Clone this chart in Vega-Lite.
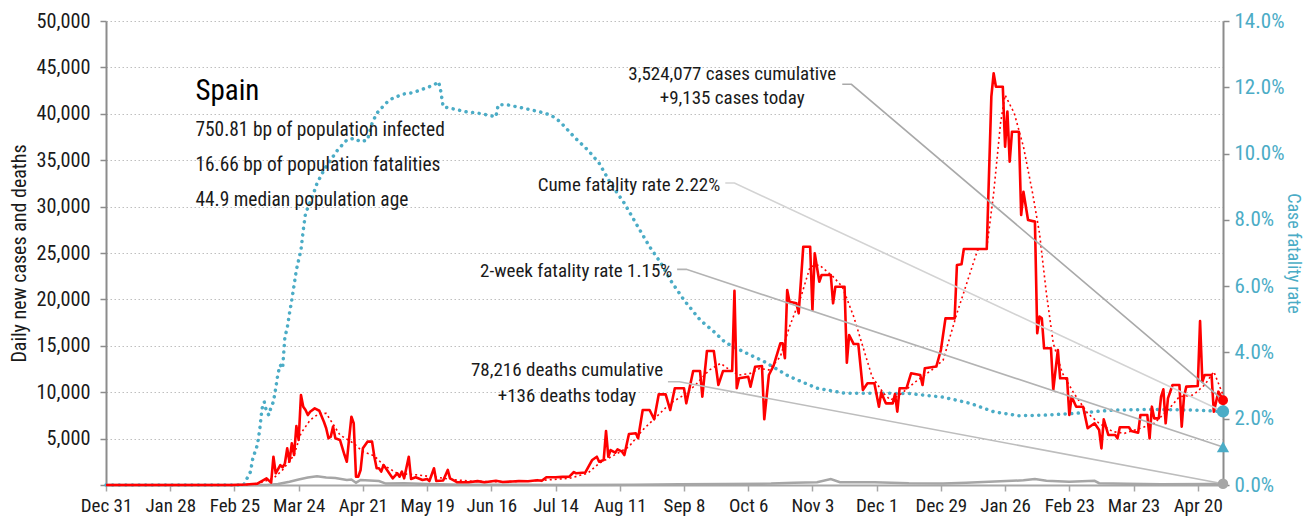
{
"$schema": "https://vega.github.io/schema/vega-lite/v6.json",
"width": 1117, "height": 464,
"autosize": {"type": "none"},
"padding": {"left": 106, "top": 21, "right": 84, "bottom": 44},
"background": "white",
"config": {
  "font": "Roboto Condensed, Roboto, sans-serif",
  "view": {"stroke": null},
  "axis": {"labelFont": "Roboto Condensed, Roboto, sans-serif", "titleFont": "Roboto Condensed, Roboto, sans-serif", "labelFontSize": 20.3, "titleFontSize": 20, "titleFontWeight": "normal", "labelColor": "#1a1a1a", "titleColor": "#1a1a1a", "domainColor": "#8c8c8c", "domainWidth": 2, "tickColor": "#8c8c8c", "tickWidth": 1.5, "tickSize": 6}
},
"datasets": {
"cases": [
{"date":"2019-12-31","cases":0},{"date":"2020-01-30","cases":0},{"date":"2020-02-24","cases":0},{"date":"2020-03-01","cases":50},{"date":"2020-03-06","cases":150},{"date":"2020-03-10","cases":720},{"date":"2020-03-12","cases":250},{"date":"2020-03-13","cases":3050},{"date":"2020-03-14","cases":1260},{"date":"2020-03-16","cases":2150},{"date":"2020-03-17","cases":1900},{"date":"2020-03-18","cases":2340},{"date":"2020-03-19","cases":3950},{"date":"2020-03-20","cases":2510},{"date":"2020-03-21","cases":4490},{"date":"2020-03-22","cases":3230},{"date":"2020-03-23","cases":6360},{"date":"2020-03-24","cases":4850},{"date":"2020-03-25","cases":9700},{"date":"2020-03-26","cases":8440},{"date":"2020-03-27","cases":8080},{"date":"2020-03-28","cases":7540},{"date":"2020-03-29","cases":7900},{"date":"2020-03-31","cases":8260},{"date":"2020-04-02","cases":8000},{"date":"2020-04-04","cases":6820},{"date":"2020-04-05","cases":6110},{"date":"2020-04-06","cases":5030},{"date":"2020-04-07","cases":5210},{"date":"2020-04-08","cases":6290},{"date":"2020-04-09","cases":5030},{"date":"2020-04-11","cases":4850},{"date":"2020-04-13","cases":3230},{"date":"2020-04-14","cases":2510},{"date":"2020-04-15","cases":5030},{"date":"2020-04-16","cases":7360},{"date":"2020-04-17","cases":6650},{"date":"2020-04-18","cases":900},{"date":"2020-04-19","cases":900},{"date":"2020-04-20","cases":1620},{"date":"2020-04-21","cases":3950},{"date":"2020-04-23","cases":4670},{"date":"2020-04-25","cases":4670},{"date":"2020-04-26","cases":3050},{"date":"2020-04-27","cases":1800},{"date":"2020-04-28","cases":1800},{"date":"2020-04-29","cases":1440},{"date":"2020-04-30","cases":2150},{"date":"2020-05-01","cases":1800},{"date":"2020-05-03","cases":1080},{"date":"2020-05-04","cases":720},{"date":"2020-05-06","cases":1260},{"date":"2020-05-07","cases":900},{"date":"2020-05-08","cases":1440},{"date":"2020-05-09","cases":720},{"date":"2020-05-11","cases":3050},{"date":"2020-05-12","cases":650},{"date":"2020-05-14","cases":830},{"date":"2020-05-17","cases":540},{"date":"2020-05-19","cases":650},{"date":"2020-05-20","cases":430},{"date":"2020-05-22","cases":1800},{"date":"2020-05-23","cases":430},{"date":"2020-05-26","cases":480},{"date":"2020-05-28","cases":1620},{"date":"2020-05-29","cases":720},{"date":"2020-06-01","cases":300},{"date":"2020-06-06","cases":300},{"date":"2020-06-10","cases":420},{"date":"2020-06-13","cases":300},{"date":"2020-06-18","cases":450},{"date":"2020-06-21","cases":330},{"date":"2020-06-25","cases":380},{"date":"2020-06-28","cases":420},{"date":"2020-07-02","cases":400},{"date":"2020-07-06","cases":520},{"date":"2020-07-08","cases":450},{"date":"2020-07-10","cases":830},{"date":"2020-07-14","cases":830},{"date":"2020-07-17","cases":880},{"date":"2020-07-20","cases":900},{"date":"2020-07-22","cases":1400},{"date":"2020-07-23","cases":1260},{"date":"2020-07-27","cases":1350},{"date":"2020-07-30","cases":2700},{"date":"2020-08-01","cases":3050},{"date":"2020-08-02","cases":2510},{"date":"2020-08-04","cases":2700},{"date":"2020-08-05","cases":5820},{"date":"2020-08-06","cases":3050},{"date":"2020-08-07","cases":3770},{"date":"2020-08-09","cases":3480},{"date":"2020-08-10","cases":3840},{"date":"2020-08-12","cases":3590},{"date":"2020-08-13","cases":3230},{"date":"2020-08-15","cases":5500},{"date":"2020-08-18","cases":5570},{"date":"2020-08-19","cases":5030},{"date":"2020-08-21","cases":8080},{"date":"2020-08-24","cases":8080},{"date":"2020-08-26","cases":7080},{"date":"2020-08-28","cases":9770},{"date":"2020-08-31","cases":9770},{"date":"2020-09-02","cases":8080},{"date":"2020-09-04","cases":10420},{"date":"2020-09-08","cases":10420},{"date":"2020-09-09","cases":8800},{"date":"2020-09-12","cases":12280},{"date":"2020-09-15","cases":12280},{"date":"2020-09-16","cases":9520},{"date":"2020-09-18","cases":14440},{"date":"2020-09-21","cases":14440},{"date":"2020-09-23","cases":10780},{"date":"2020-09-25","cases":12280},{"date":"2020-09-29","cases":12280},{"date":"2020-09-30","cases":20940},{"date":"2020-10-01","cases":10420},{"date":"2020-10-02","cases":11500},{"date":"2020-10-06","cases":11670},{"date":"2020-10-07","cases":10600},{"date":"2020-10-09","cases":12750},{"date":"2020-10-12","cases":12820},{"date":"2020-10-13","cases":7080},{"date":"2020-10-15","cases":11850},{"date":"2020-10-17","cases":12820},{"date":"2020-10-20","cases":15270},{"date":"2020-10-21","cases":15270},{"date":"2020-10-22","cases":13660},{"date":"2020-10-23","cases":21010},{"date":"2020-10-24","cases":19750},{"date":"2020-10-27","cases":19580},{"date":"2020-10-28","cases":18500},{"date":"2020-10-30","cases":25680},{"date":"2020-11-02","cases":25680},{"date":"2020-11-03","cases":18860},{"date":"2020-11-04","cases":24970},{"date":"2020-11-06","cases":21900},{"date":"2020-11-07","cases":22630},{"date":"2020-11-11","cases":22630},{"date":"2020-11-12","cases":19580},{"date":"2020-11-13","cases":21370},{"date":"2020-11-17","cases":21370},{"date":"2020-11-18","cases":13180},{"date":"2020-11-19","cases":16160},{"date":"2020-11-21","cases":15190},{"date":"2020-11-23","cases":15190},{"date":"2020-11-25","cases":10240},{"date":"2020-11-27","cases":10960},{"date":"2020-11-30","cases":10960},{"date":"2020-12-02","cases":8440},{"date":"2020-12-03","cases":9980},{"date":"2020-12-05","cases":8800},{"date":"2020-12-08","cases":8800},{"date":"2020-12-09","cases":9800},{"date":"2020-12-10","cases":7900},{"date":"2020-12-11","cases":10420},{"date":"2020-12-14","cases":10420},{"date":"2020-12-16","cases":12040},{"date":"2020-12-20","cases":11850},{"date":"2020-12-21","cases":10780},{"date":"2020-12-22","cases":12580},{"date":"2020-12-27","cases":12760},{"date":"2020-12-29","cases":14550},{"date":"2020-12-31","cases":17960},{"date":"2021-01-04","cases":17960},{"date":"2021-01-05","cases":23710},{"date":"2021-01-07","cases":23780},{"date":"2021-01-08","cases":25430},{"date":"2021-01-18","cases":25430},{"date":"2021-01-20","cases":41840},{"date":"2021-01-21","cases":44360},{"date":"2021-01-22","cases":42920},{"date":"2021-01-25","cases":42920},{"date":"2021-01-26","cases":36450},{"date":"2021-01-27","cases":40230},{"date":"2021-01-28","cases":34840},{"date":"2021-01-29","cases":38070},{"date":"2021-02-01","cases":38070},{"date":"2021-02-02","cases":29090},{"date":"2021-02-03","cases":31600},{"date":"2021-02-05","cases":28560},{"date":"2021-02-08","cases":28380},{"date":"2021-02-09","cases":16350},{"date":"2021-02-10","cases":18140},{"date":"2021-02-11","cases":17960},{"date":"2021-02-12","cases":14730},{"date":"2021-02-15","cases":14730},{"date":"2021-02-16","cases":10240},{"date":"2021-02-18","cases":14550},{"date":"2021-02-19","cases":11500},{"date":"2021-02-22","cases":11500},{"date":"2021-02-23","cases":7540},{"date":"2021-02-24","cases":9520},{"date":"2021-02-26","cases":8440},{"date":"2021-03-01","cases":8440},{"date":"2021-03-03","cases":6110},{"date":"2021-03-06","cases":6650},{"date":"2021-03-08","cases":5930},{"date":"2021-03-09","cases":3950},{"date":"2021-03-10","cases":7080},{"date":"2021-03-12","cases":5390},{"date":"2021-03-15","cases":5390},{"date":"2021-03-16","cases":5030},{"date":"2021-03-17","cases":6220},{"date":"2021-03-21","cases":6220},{"date":"2021-03-22","cases":5820},{"date":"2021-03-25","cases":5630},{"date":"2021-03-26","cases":7540},{"date":"2021-03-29","cases":7540},{"date":"2021-03-30","cases":5030},{"date":"2021-03-31","cases":8440},{"date":"2021-04-01","cases":7180},{"date":"2021-04-03","cases":7180},{"date":"2021-04-04","cases":9520},{"date":"2021-04-05","cases":10310},{"date":"2021-04-06","cases":6650},{"date":"2021-04-07","cases":9340},{"date":"2021-04-09","cases":10780},{"date":"2021-04-12","cases":10780},{"date":"2021-04-13","cases":6290},{"date":"2021-04-14","cases":9520},{"date":"2021-04-15","cases":10600},{"date":"2021-04-20","cases":10670},{"date":"2021-04-21","cases":17670},{"date":"2021-04-22","cases":11130},{"date":"2021-04-23","cases":11850},{"date":"2021-04-26","cases":11850},{"date":"2021-04-27","cases":7900},{"date":"2021-04-29","cases":10060},{"date":"2021-05-01","cases":9135}
],
"ma": [
{"date":"2019-12-31","ma":0},{"date":"2020-02-29","ma":0},{"date":"2020-03-06","ma":150},{"date":"2020-03-13","ma":720},{"date":"2020-03-17","ma":1620},{"date":"2020-03-22","ma":3230},{"date":"2020-03-25","ma":5570},{"date":"2020-03-29","ma":7000},{"date":"2020-04-02","ma":7720},{"date":"2020-04-05","ma":7720},{"date":"2020-04-11","ma":5390},{"date":"2020-04-17","ma":4490},{"date":"2020-04-21","ma":3590},{"date":"2020-04-26","ma":3130},{"date":"2020-04-30","ma":2150},{"date":"2020-05-06","ma":1260},{"date":"2020-05-15","ma":1080},{"date":"2020-05-23","ma":830},{"date":"2020-06-01","ma":540},{"date":"2020-06-08","ma":400},{"date":"2020-06-23","ma":350},{"date":"2020-07-08","ma":500},{"date":"2020-07-20","ma":720},{"date":"2020-07-28","ma":1260},{"date":"2020-08-02","ma":2340},{"date":"2020-08-10","ma":3410},{"date":"2020-08-15","ma":4130},{"date":"2020-08-21","ma":5930},{"date":"2020-08-27","ma":7360},{"date":"2020-09-02","ma":8800},{"date":"2020-09-08","ma":9700},{"date":"2020-09-13","ma":10780},{"date":"2020-09-19","ma":12390},{"date":"2020-09-24","ma":13110},{"date":"2020-09-28","ma":12390},{"date":"2020-10-02","ma":11850},{"date":"2020-10-07","ma":12030},{"date":"2020-10-11","ma":12570},{"date":"2020-10-15","ma":12390},{"date":"2020-10-20","ma":13830},{"date":"2020-10-24","ma":17060},{"date":"2020-10-29","ma":20290},{"date":"2020-11-02","ma":23530},{"date":"2020-11-06","ma":23710},{"date":"2020-11-12","ma":22450},{"date":"2020-11-16","ma":21370},{"date":"2020-11-21","ma":18140},{"date":"2020-11-25","ma":14900},{"date":"2020-11-29","ma":11670},{"date":"2020-12-04","ma":9880},{"date":"2020-12-07","ma":9160},{"date":"2020-12-11","ma":9700},{"date":"2020-12-18","ma":11130},{"date":"2020-12-25","ma":12390},{"date":"2020-12-30","ma":13470},{"date":"2021-01-05","ma":18500},{"date":"2021-01-14","ma":25320},{"date":"2021-01-18","ma":25540},{"date":"2021-01-21","ma":31430},{"date":"2021-01-24","ma":38980},{"date":"2021-01-26","ma":42030},{"date":"2021-01-30","ma":40050},{"date":"2021-02-03","ma":36450},{"date":"2021-02-07","ma":31430},{"date":"2021-02-10","ma":27120},{"date":"2021-02-13","ma":20660},{"date":"2021-02-16","ma":15270},{"date":"2021-02-20","ma":12040},{"date":"2021-02-25","ma":9880},{"date":"2021-03-03","ma":7720},{"date":"2021-03-08","ma":6650},{"date":"2021-03-14","ma":5750},{"date":"2021-03-19","ma":5570},{"date":"2021-03-26","ma":6110},{"date":"2021-04-01","ma":6650},{"date":"2021-04-07","ma":8080},{"date":"2021-04-12","ma":9520},{"date":"2021-04-18","ma":9700},{"date":"2021-04-23","ma":10780},{"date":"2021-04-27","ma":12210},{"date":"2021-04-29","ma":10960},{"date":"2021-05-01","ma":9700}
],
"deaths": [
{"date":"2019-12-31","deaths":0},{"date":"2020-03-05","deaths":0},{"date":"2020-03-10","deaths":10},{"date":"2020-03-15","deaths":100},{"date":"2020-03-20","deaths":350},{"date":"2020-03-24","deaths":600},{"date":"2020-03-28","deaths":800},{"date":"2020-04-01","deaths":950},{"date":"2020-04-05","deaths":800},{"date":"2020-04-09","deaths":750},{"date":"2020-04-14","deaths":540},{"date":"2020-04-16","deaths":600},{"date":"2020-04-18","deaths":250},{"date":"2020-04-20","deaths":540},{"date":"2020-04-28","deaths":430},{"date":"2020-05-01","deaths":150},{"date":"2020-05-09","deaths":200},{"date":"2020-05-19","deaths":100},{"date":"2020-05-29","deaths":50},{"date":"2020-06-08","deaths":30},{"date":"2020-07-19","deaths":10},{"date":"2020-08-17","deaths":40},{"date":"2020-09-06","deaths":80},{"date":"2020-09-26","deaths":120},{"date":"2020-10-16","deaths":150},{"date":"2020-10-26","deaths":250},{"date":"2020-11-05","deaths":300},{"date":"2020-11-11","deaths":650},{"date":"2020-11-15","deaths":300},{"date":"2020-11-30","deaths":300},{"date":"2020-12-15","deaths":180},{"date":"2020-12-30","deaths":150},{"date":"2021-01-09","deaths":250},{"date":"2021-01-24","deaths":400},{"date":"2021-02-03","deaths":500},{"date":"2021-02-08","deaths":650},{"date":"2021-02-13","deaths":450},{"date":"2021-02-23","deaths":350},{"date":"2021-03-06","deaths":450},{"date":"2021-03-08","deaths":200},{"date":"2021-03-20","deaths":130},{"date":"2021-04-04","deaths":80},{"date":"2021-04-24","deaths":100},{"date":"2021-05-01","deaths":136}
],
"cfr": [
{"date":"2019-12-31","cfr":0},{"date":"2020-02-29","cfr":0},{"date":"2020-03-03","cfr":0.004},{"date":"2020-03-04","cfr":0.008},{"date":"2020-03-06","cfr":0.0121},{"date":"2020-03-07","cfr":0.0166},{"date":"2020-03-08","cfr":0.023},{"date":"2020-03-09","cfr":0.0251},{"date":"2020-03-10","cfr":0.0221},{"date":"2020-03-11","cfr":0.0211},{"date":"2020-03-12","cfr":0.0236},{"date":"2020-03-13","cfr":0.0251},{"date":"2020-03-14","cfr":0.0292},{"date":"2020-03-15","cfr":0.0337},{"date":"2020-03-16","cfr":0.0362},{"date":"2020-03-17","cfr":0.0352},{"date":"2020-03-18","cfr":0.0447},{"date":"2020-03-19","cfr":0.0473},{"date":"2020-03-20","cfr":0.0518},{"date":"2020-03-21","cfr":0.0558},{"date":"2020-03-22","cfr":0.0603},{"date":"2020-03-23","cfr":0.0649},{"date":"2020-03-25","cfr":0.0709},{"date":"2020-03-26","cfr":0.0769},{"date":"2020-03-27","cfr":0.082},{"date":"2020-03-30","cfr":0.087},{"date":"2020-04-01","cfr":0.091},{"date":"2020-04-04","cfr":0.095},{"date":"2020-04-07","cfr":0.0981},{"date":"2020-04-10","cfr":0.1011},{"date":"2020-04-14","cfr":0.1041},{"date":"2020-04-17","cfr":0.1046},{"date":"2020-04-20","cfr":0.1036},{"date":"2020-04-23","cfr":0.1041},{"date":"2020-04-25","cfr":0.1091},{"date":"2020-04-27","cfr":0.1121},{"date":"2020-05-01","cfr":0.1152},{"date":"2020-05-04","cfr":0.1167},{"date":"2020-05-09","cfr":0.118},{"date":"2020-05-13","cfr":0.1184},{"date":"2020-05-17","cfr":0.1194},{"date":"2020-05-22","cfr":0.1207},{"date":"2020-05-24","cfr":0.1217},{"date":"2020-05-25","cfr":0.1187},{"date":"2020-05-26","cfr":0.1141},{"date":"2020-05-29","cfr":0.1137},{"date":"2020-06-05","cfr":0.1126},{"date":"2020-06-11","cfr":0.1121},{"date":"2020-06-18","cfr":0.1111},{"date":"2020-06-19","cfr":0.1147},{"date":"2020-06-23","cfr":0.1147},{"date":"2020-06-30","cfr":0.1137},{"date":"2020-07-07","cfr":0.1126},{"date":"2020-07-12","cfr":0.1116},{"date":"2020-07-16","cfr":0.1096},{"date":"2020-07-22","cfr":0.1051},{"date":"2020-07-28","cfr":0.1011},{"date":"2020-08-02","cfr":0.0971},{"date":"2020-08-07","cfr":0.091},{"date":"2020-08-13","cfr":0.085},{"date":"2020-08-18","cfr":0.079},{"date":"2020-08-24","cfr":0.0719},{"date":"2020-08-29","cfr":0.0669},{"date":"2020-09-02","cfr":0.0619},{"date":"2020-09-08","cfr":0.0558},{"date":"2020-09-15","cfr":0.0498},{"date":"2020-09-21","cfr":0.0463},{"date":"2020-09-26","cfr":0.043},{"date":"2020-10-01","cfr":0.0412},{"date":"2020-10-13","cfr":0.0372},{"date":"2020-10-24","cfr":0.0327},{"date":"2020-11-05","cfr":0.0292},{"date":"2020-11-17","cfr":0.0277},{"date":"2020-11-30","cfr":0.0277},{"date":"2020-12-15","cfr":0.0276},{"date":"2020-12-30","cfr":0.0265},{"date":"2021-01-11","cfr":0.0246},{"date":"2021-01-21","cfr":0.0221},{"date":"2021-02-01","cfr":0.0209},{"date":"2021-02-13","cfr":0.0211},{"date":"2021-02-25","cfr":0.0216},{"date":"2021-03-14","cfr":0.0226},{"date":"2021-04-01","cfr":0.0228},{"date":"2021-04-18","cfr":0.0226},{"date":"2021-05-01","cfr":0.0222}
],
"notes": [
{"date":"2020-02-08","value":41490,"text":"Spain","group":"title"},
{"date":"2020-02-08","value":37610,"text":"750.81 bp of population infected","group":"stat"},
{"date":"2020-02-08","value":33870,"text":"16.66 bp of population fatalities","group":"stat"},
{"date":"2020-02-08","value":30070,"text":"44.9 median population age","group":"stat"},
{"date":"2020-09-29","value":43640,"text":"3,524,077 cases cumulative","group":"ann"},
{"date":"2020-09-29","value":41060,"text":"+9,135 cases today","group":"ann"},
{"date":"2020-08-15","value":31710,"text":"Cume fatality rate 2.22%","group":"ann"},
{"date":"2020-07-23","value":22450,"text":"2-week fatality rate 1.15%","group":"ann"},
{"date":"2020-07-19","value":11750,"text":"78,216 deaths cumulative","group":"ann"},
{"date":"2020-07-19","value":8980,"text":"+136 deaths today","group":"ann"}
],
"links": [
{"date":"2020-11-16","value":43180,"link":"cases"},{"date":"2020-11-20","value":43180,"link":"cases"},{"date":"2021-05-01","value":9135,"link":"cases"},
{"date":"2020-09-26","value":32540,"link":"cume"},{"date":"2020-09-30","value":32540,"link":"cume"},{"date":"2021-05-01","value":7929,"link":"cume"},
{"date":"2020-09-05","value":23240,"link":"twoweek"},{"date":"2020-09-09","value":23240,"link":"twoweek"},{"date":"2021-05-01","value":4107,"link":"twoweek"},
{"date":"2020-09-01","value":11130,"link":"deaths"},{"date":"2020-09-06","value":11130,"link":"deaths"},{"date":"2021-05-01","value":136,"link":"deaths"}
],
"endLeft": [
{"date":"2021-05-01","value":9135,"marker":"cases"},
{"date":"2021-05-01","value":136,"marker":"deaths"}
],
"endRight": [
{"date":"2021-05-01","rate":0.0222,"marker":"cume"},
{"date":"2021-05-01","rate":0.0115,"marker":"twoweek"}
]
},
"encoding": {
  "x": {"field": "date", "type": "temporal",
    "scale": {"type": "utc", "domain": [{"year":2019,"month":12,"date":31,"utc":true},{"year":2021,"month":5,"date":1,"utc":true}]},
    "axis": {"title": null, "format": "%b %-d", "grid": false, "labelPadding": 5, "labelFontSize": 19, "labelOverlap": false, "labelFlush": false, "domainColor": "#a6a6a6", "tickColor": "#a6a6a6",
      "values": [{"year":2019,"month":12,"date":31,"utc":true},{"year":2020,"month":1,"date":28,"utc":true},{"year":2020,"month":2,"date":25,"utc":true},{"year":2020,"month":3,"date":24,"utc":true},{"year":2020,"month":4,"date":21,"utc":true},{"year":2020,"month":5,"date":19,"utc":true},{"year":2020,"month":6,"date":16,"utc":true},{"year":2020,"month":7,"date":14,"utc":true},{"year":2020,"month":8,"date":11,"utc":true},{"year":2020,"month":9,"date":8,"utc":true},{"year":2020,"month":10,"date":6,"utc":true},{"year":2020,"month":11,"date":3,"utc":true},{"year":2020,"month":12,"date":1,"utc":true},{"year":2020,"month":12,"date":29,"utc":true},{"year":2021,"month":1,"date":26,"utc":true},{"year":2021,"month":2,"date":23,"utc":true},{"year":2021,"month":3,"date":23,"utc":true},{"year":2021,"month":4,"date":20,"utc":true}]}}
},
"layer": [
{
  "data": {"name": "cfr"},
  "mark": {"type": "line", "color": "#4bacc6", "strokeWidth": 3.5, "strokeDash": [0.1, 6.5], "strokeCap": "round"},
  "encoding": {
    "y": {"field": "cfr", "type": "quantitative", "scale": {"domain": [0, 0.14], "nice": false},
      "axis": {"orient": "right", "values": [0,0.02,0.04,0.06,0.08,0.1,0.12,0.14], "format": ".1%", "labelFontSize": 21, "labelColor": "#4bacc6", "title": "Case fatality rate", "titleFontSize": 18, "titleColor": "#4bacc6", "grid": false, "titlePadding": 0, "labelPadding": 5}}
  }
},
{
  "encoding": {"y": {"type": "quantitative", "scale": {"domain": [0, 50000], "nice": false}}},
  "layer": [
    {
      "data": {"name": "deaths"},
      "mark": {"type": "line", "color": "#a6a6a6", "strokeWidth": 2.5},
      "encoding": {"y": {"field": "deaths", "type": "quantitative", "scale": {"domain": [0, 50000], "nice": false},
        "axis": {"orient": "left", "values": [0,5000,10000,15000,20000,25000,30000,35000,40000,45000,50000], "format": ",d", "labelExpr": "datum.value === 0 ? '' : datum.label", "grid": true, "gridColor": "#bfbfbf", "gridDash": [1.5, 2.5], "gridWidth": 1.2, "title": "Daily new cases and deaths", "titlePadding": 6, "labelPadding": 10}}}
    },
    {
      "data": {"name": "ma"},
      "mark": {"type": "line", "color": "#ff0000", "strokeWidth": 1.6, "strokeDash": [2, 3]},
      "encoding": {"y": {"field": "ma", "type": "quantitative"}}
    },
    {
      "data": {"name": "cases"},
      "mark": {"type": "line", "color": "#ff0000", "strokeWidth": 2.6, "strokeJoin": "round"},
      "encoding": {"y": {"field": "cases", "type": "quantitative"}}
    },
    {
      "data": {"name": "links"},
      "mark": {"type": "line", "strokeWidth": 1.6},
      "encoding": {
        "y": {"field": "value", "type": "quantitative"},
        "detail": {"field": "link"},
        "color": {"field": "link", "type": "nominal", "legend": null, "scale": {"domain": ["cases","cume","twoweek","deaths"], "range": ["#a9a9a9","#d3d3d3","#b3b3b3","#bdbdbd"]}}
      }
    },
    {
      "data": {"name": "notes"},
      "transform": [{"filter": "datum.group === 'title'"}],
      "mark": {"type": "text", "align": "left", "baseline": "alphabetic", "fontSize": 29, "color": "#000000"},
      "encoding": {"y": {"field": "value", "type": "quantitative"}, "text": {"field": "text"}}
    },
    {
      "data": {"name": "notes"},
      "transform": [{"filter": "datum.group === 'stat'"}],
      "mark": {"type": "text", "align": "left", "baseline": "alphabetic", "fontSize": 19.4, "color": "#1a1a1a"},
      "encoding": {"y": {"field": "value", "type": "quantitative"}, "text": {"field": "text"}}
    },
    {
      "data": {"name": "notes"},
      "transform": [{"filter": "datum.group === 'ann'"}],
      "mark": {"type": "text", "align": "center", "baseline": "alphabetic", "fontSize": 19, "color": "#1a1a1a"},
      "encoding": {"y": {"field": "value", "type": "quantitative"}, "text": {"field": "text"}}
    },
    {
      "data": {"name": "endLeft"},
      "transform": [{"filter": "datum.marker === 'cases'"}],
      "mark": {"type": "point", "shape": "circle", "filled": true, "opacity": 1, "size": 100, "color": "#ff0000"},
      "encoding": {"y": {"field": "value", "type": "quantitative"}}
    },
    {
      "data": {"name": "endLeft"},
      "transform": [{"filter": "datum.marker === 'deaths'"}],
      "mark": {"type": "point", "shape": "circle", "filled": true, "opacity": 1, "size": 110, "color": "#a6a6a6"},
      "encoding": {"y": {"field": "value", "type": "quantitative"}}
    }
  ]
},
{
  "data": {"name": "endRight"},
  "mark": {"type": "point", "filled": true, "opacity": 1, "color": "#4bacc6", "size": 150},
  "encoding": {
    "y": {"field": "rate", "type": "quantitative", "scale": {"domain": [0, 0.14], "nice": false}, "axis": null},
    "shape": {"field": "marker", "type": "nominal", "legend": null, "scale": {"domain": ["cume","twoweek"], "range": ["circle","triangle-up"]}}
  }
}
],
"resolve": {"scale": {"y": "independent", "shape": "independent"}, "axis": {"y": "independent"}}
}
